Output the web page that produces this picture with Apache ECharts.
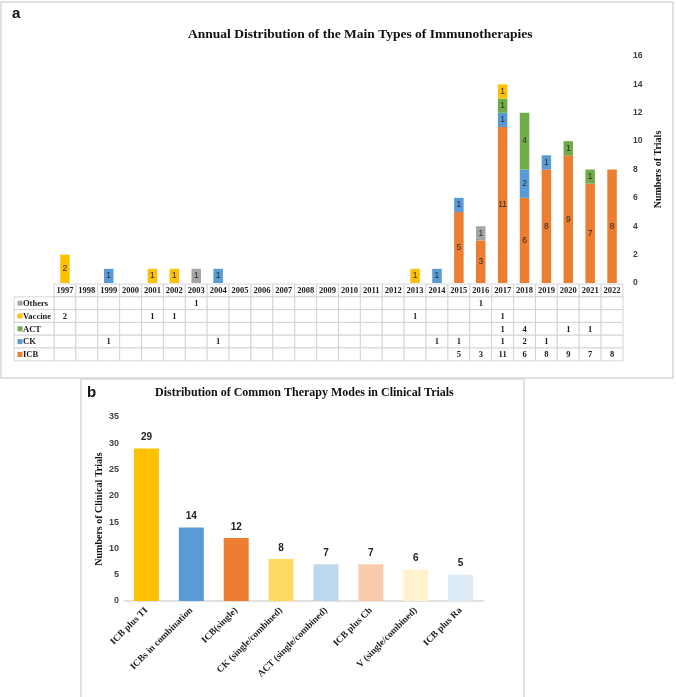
<!DOCTYPE html>
<html>
<head>
<meta charset="utf-8">
<script src="https://cdn.jsdelivr.net/npm/echarts@6/dist/echarts.min.js"></script>
<style>html,body{margin:0;padding:0;background:#fff;}#c{width:676px;height:697px;}</style>
</head>
<body>
<div id="c"></div>
<script>
// ---- Panel a data ----
const years = ['1997','1998','1999','2000','2001','2002','2003','2004','2005','2006','2007','2008','2009','2010','2011','2012','2013','2014','2015','2016','2017','2018','2019','2020','2021','2022'];
const icb     = [0,0,0,0,0,0,0,0,0,0,0,0,0,0,0,0,0,0,5,3,11,6,8,9,7,8];
const ck      = [0,0,1,0,0,0,0,1,0,0,0,0,0,0,0,0,0,1,1,0,1,2,1,0,0,0];
const act     = [0,0,0,0,0,0,0,0,0,0,0,0,0,0,0,0,0,0,0,0,1,4,0,1,1,0];
const vaccine = [2,0,0,0,1,1,0,0,0,0,0,0,0,0,0,0,1,0,0,0,1,0,0,0,0,0];
const others  = [0,0,0,0,0,0,1,0,0,0,0,0,0,0,0,0,0,0,0,1,0,0,0,0,0,0];
const typeNames = ['ICB','CK','ACT','Vaccine','Others'];
const yTicksA = {min:0, max:16, interval:2};

// ---- Panel b data ----
const modes = ['ICB plus TI','ICBs in combination','ICB(single)','CK (single/combined)','ACT (single/combined)','ICB plus Ch','V (single/combined)','ICB plus Ra'];
const modeCounts = [29,14,12,8,7,7,6,5];
const yTicksB = {min:0, max:35, interval:5};

// ---- styles ----
const typeColors = {ICB:'#ED7D31', CK:'#5B9BD5', ACT:'#70AD47', Vaccine:'#FFC000', Others:'#A5A5A5'};
const modeColors = ['#FFC000','#5B9BD5','#ED7D31','#FFD966','#BDD7EE','#F8CBAD','#FFF2CC','#DDEBF7'];
const serif = '"Liberation Serif","Times New Roman",serif';
const sans = '"Liberation Sans",Arial,sans-serif';

const typeData = {ICB:icb, CK:ck, ACT:act, Vaccine:vaccine, Others:others};
const tableRows = ['', 'Others','Vaccine','ACT','CK','ICB'];

const barSeries = typeNames.map(n => ({
  name:n, type:'bar', stack:'a', xAxisIndex:0, yAxisIndex:0,
  barWidth:9.5,
  data: typeData[n],
  itemStyle:{color:typeColors[n]},
  label:{show:true, position:'inside', fontFamily:sans, fontSize:8.5, color:'#2a2a2a',
         formatter:p => p.value ? String(p.value) : ''},
  emphasis:{disabled:true}
}));

const tableData = [];
const tableText = [];
years.forEach((y,i) => {
  tableRows.forEach((r,j) => {
    tableData.push([i,j]);
    if (j === 0) tableText.push(y);
    else { const v = typeData[r][i]; tableText.push(v ? String(v) : ''); }
  });
});

const tableSeries = {
  type:'custom', xAxisIndex:1, yAxisIndex:1, data:tableData, silent:true,
  renderItem:(params, api) => {
    const xi = api.value(0), yi = api.value(1);
    const c = api.coord([xi, yi]);
    const s = api.size([1,1]);
    const x0 = c[0]-s[0]/2, y0 = c[1]-s[1]/2;
    const children = [
      {type:'rect', shape:{x:x0,y:y0,width:s[0],height:s[1]}, style:{fill:'#fff', stroke:'#cdcdcd', lineWidth:0.8}},
      {type:'text', style:{text:tableText[params.dataIndex], x:c[0], y:c[1]+0.5, align:'center', verticalAlign:'middle',
        font:'bold 8.5px '+serif, fill:'#1a1a1a'}}
    ];
    if (xi === 0 && yi > 0) {
      const name = tableRows[yi];
      const lw = 40;
      children.push({type:'rect', shape:{x:x0-lw,y:y0,width:lw,height:s[1]}, style:{fill:'#fff', stroke:'#cdcdcd', lineWidth:0.8}});
      children.push({type:'rect', shape:{x:x0-lw+3.5,y:c[1]-2.5,width:5,height:5}, style:{fill:typeColors[name]}});
      children.push({type:'text', style:{text:name, x:x0-lw+9, y:c[1]+0.5, align:'left', verticalAlign:'middle',
        font:'bold 8.5px '+serif, fill:'#1a1a1a'}});
    }
    return {type:'group', children};
  }
};

const option = {
  backgroundColor:'#fff',
  animation:false,
  title:[
    {text:'Annual Distribution of the Main Types of Immunotherapies', left:188, top:28, padding:0,
     textStyle:{fontFamily:serif, fontWeight:'bold', fontSize:13.5, color:'#111'}},
    {text:'Distribution of Common Therapy Modes in Clinical Trials', left:155, top:387, padding:0,
     textStyle:{fontFamily:serif, fontWeight:'bold', fontSize:12, color:'#111'}}
  ],
  graphic:[
    {type:'rect', shape:{x:1,y:2,width:672,height:376}, style:{fill:'none', stroke:'#d9d9d9', lineWidth:1.5}, silent:true, z:-10},
    {type:'rect', shape:{x:81,y:379,width:443,height:320}, style:{fill:'none', stroke:'#d9d9d9', lineWidth:1.5}, silent:true, z:-10},
    {type:'text', left:12, top:6, style:{text:'a', font:'bold 15px '+sans, fill:'#111'}},
    {type:'text', left:87, top:385, style:{text:'b', font:'bold 15px '+sans, fill:'#111'}},
    {type:'text', x:99, y:509, rotation:Math.PI/2,
     style:{text:'Numbers of Clinical Trials', align:'center', verticalAlign:'middle', font:'bold 10px '+serif, fill:'#111'}}
  ],
  grid:[
    {left:54, top:56, width:569, height:227},
    {left:54, top:284, width:569, height:76.8},
    {left:124, top:417, width:359, height:184}
  ],
  xAxis:[
    {type:'category', gridIndex:0, data:years, show:false},
    {type:'category', gridIndex:1, data:years, show:false},
    {type:'category', gridIndex:2, data:modes,
     axisLine:{lineStyle:{color:'#d9d9d9', width:1.5}}, axisTick:{show:false},
     axisLabel:{rotate:45, interval:0, margin:8, fontFamily:serif, fontWeight:'bold', fontSize:9.5, color:'#222'}}
  ],
  yAxis:[
    {type:'value', gridIndex:0, position:'right', min:yTicksA.min, max:yTicksA.max, interval:yTicksA.interval,
     splitLine:{show:false}, axisLine:{show:false}, axisTick:{show:false},
     axisLabel:{margin:10, fontFamily:sans, fontWeight:'bold', fontSize:8.5, color:'#404040'},
     name:'Numbers of Trials', nameLocation:'middle', nameGap:26, nameRotate:90,
     nameTextStyle:{fontFamily:serif, fontWeight:'bold', fontSize:10, color:'#111'}},
    {type:'category', gridIndex:1, data:tableRows, inverse:true, show:false},
    {type:'value', gridIndex:2, min:yTicksB.min, max:yTicksB.max, interval:yTicksB.interval,
     splitLine:{show:false}, axisLine:{show:false}, axisTick:{show:false},
     axisLabel:{margin:5, fontFamily:sans, fontWeight:'bold', fontSize:9, color:'#404040'}}
  ],
  series:[
    ...barSeries,
    tableSeries,
    {type:'bar', xAxisIndex:2, yAxisIndex:2, barWidth:25,
     data:modeCounts.map((v,i) => ({value:v, itemStyle:{color:modeColors[i]}})),
     label:{show:true, position:'top', distance:6, fontFamily:sans, fontWeight:'bold', fontSize:10, color:'#222'},
     emphasis:{disabled:true}}
  ]
};

const chart = echarts.init(document.getElementById('c'), null, {renderer:'canvas'});
chart.setOption(option);
</script>
</body>
</html>
